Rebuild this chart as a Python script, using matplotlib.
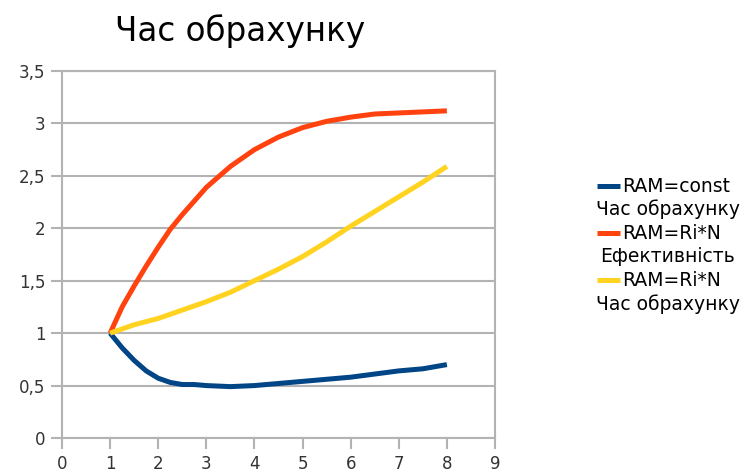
import matplotlib
matplotlib.use("Agg")
import matplotlib.pyplot as plt
from matplotlib.lines import Line2D
from matplotlib.ticker import FuncFormatter

# N values and relative timings / efficiency
n = [1, 1.25, 1.5, 1.75, 2, 2.25, 2.5, 2.75, 3, 3.5, 4, 4.5, 5, 5.5, 6, 6.5, 7, 7.5, 8]
ram_const_time = [1.00, 0.86, 0.74, 0.64, 0.57, 0.53, 0.51, 0.51, 0.50, 0.49, 0.50,
                  0.52, 0.54, 0.56, 0.58, 0.61, 0.64, 0.66, 0.70]
ram_rin_eff = [1.00, 1.25, 1.45, 1.64, 1.82, 1.99, 2.13, 2.26, 2.39, 2.59, 2.75,
               2.87, 2.96, 3.02, 3.06, 3.09, 3.10, 3.11, 3.12]
ram_rin_time = [1.00, 1.04, 1.08, 1.11, 1.14, 1.18, 1.22, 1.26, 1.30, 1.39, 1.50,
                1.61, 1.73, 1.87, 2.02, 2.16, 2.30, 2.44, 2.59]

series = [
    (ram_const_time, "#004586", "RAM=const", "Час обрахунку"),
    (ram_rin_eff, "#ff420e", "RAM=Ri*N", "Ефективність"),
    (ram_rin_time, "#ffd320", "RAM=Ri*N", "Час обрахунку"),
]

title = "Час обрахунку"
xticks = list(range(0, 10))
yticks = [0, 0.5, 1, 1.5, 2, 2.5, 3, 3.5]

fig = plt.figure(figsize=(7.45, 4.73), dpi=100)
ax = fig.add_axes([62 / 745, 35 / 473, 433 / 745, 367 / 473])

grid_c = "#b3b3b3"
for ys, color, _, _ in series:
    ax.plot(n, ys, color=color, lw=3.6, solid_capstyle="butt", solid_joinstyle="round", zorder=3)

ax.set_xlim(0, 9)
ax.set_ylim(0, 3.5)
ax.set_xticks(xticks)
ax.set_yticks(yticks)
ax.yaxis.set_major_formatter(FuncFormatter(lambda v, _: f"{v:g}".replace(".", ",")))
ax.grid(axis="y", color=grid_c, lw=1.5)
ax.set_axisbelow(True)
for sp in ax.spines.values():
    sp.set_color(grid_c)
    sp.set_linewidth(1.5)
ax.tick_params(colors=grid_c, width=1.5, length=8, labelcolor="#333333", labelsize=12, pad=4)

fig.text(240 / 745, 1 - 31 / 473, title, ha="center", va="center", fontsize=23.5)

# legend drawn by hand: handle + first line, centred second line
row_h = 23.6
y0 = 186
for i, (_, color, l1, l2) in enumerate(series):
    ya = 1 - (y0 + 2 * i * row_h) / 473
    yb = 1 - (y0 + (2 * i + 1) * row_h) / 473
    fig.add_artist(Line2D([597 / 745, 620 / 745], [ya, ya], color=color, lw=3.6,
                          solid_capstyle="butt", transform=fig.transFigure))
    fig.text(622 / 745, ya, l1, ha="left", va="center", fontsize=13.5)
    fig.text(668 / 745, yb, l2, ha="center", va="center", fontsize=13.5)

fig.savefig("out.png", dpi=100)
